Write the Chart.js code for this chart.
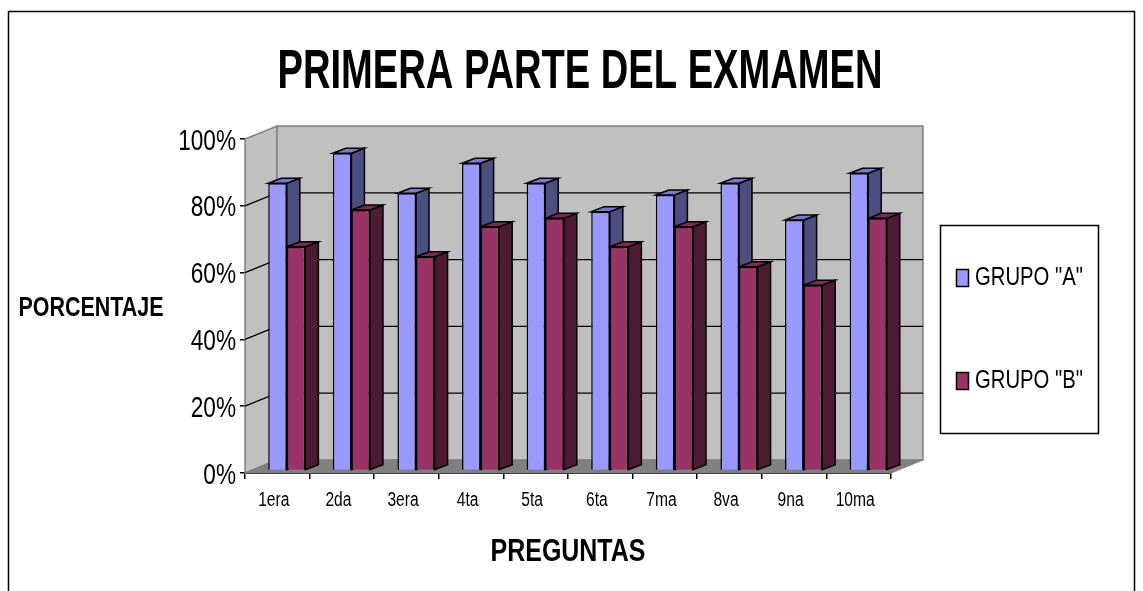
<!DOCTYPE html>
<html>
<head>
<meta charset="utf-8">
<title>Primera parte del examen</title>
<script src="https://cdn.jsdelivr.net/npm/chart.js@4/dist/chart.umd.min.js"></script>
<style>
    html, body { margin: 0; padding: 0; background: #fff; }
    canvas { display: block; }
</style>
</head>
<body>
<canvas id="examChart" width="1143" height="591"></canvas>
<script>
const preguntas = ['1era', '2da', '3era', '4ta', '5ta', '6ta', '7ma', '8va', '9na', '10ma'];
const grupoA = [86, 95, 83, 92, 86, 77.5, 82.5, 86, 75, 89];
const grupoB = [67, 78, 64, 73, 75.5, 67, 73, 61, 55.5, 75.5];
const yTicks = [0, 20, 40, 60, 80, 100];

const sans = '"Liberation Sans", Arial, sans-serif';

// the reference was squeezed sideways, no narrow font is installed so do the same to the text
const SQUEEZE = 0.78;
const squeezeFor = { 'PRIMERA PARTE DEL EXMAMEN': 0.693, 'PREGUNTAS': 0.78 };

// the fake 3d: how far the back wall sits behind the axes, and the bars inside that
const WALL_DX = 32, WALL_DY = -13;
const BAR_DX = 9.5, BAR_DY = -2.5;
const SIDE_DX = 13, SIDE_DY = -5;

const faces = [
    { front: '#9999FF', side: '#4D4D80', top: '#7A7ACC' },
    { front: '#993366', side: '#4D1A33', top: '#7A2952' }
];

function poly(ctx, pts, fill, stroke, width) {
    ctx.beginPath();
    pts.forEach((p, i) => i ? ctx.lineTo(p[0], p[1]) : ctx.moveTo(p[0], p[1]));
    ctx.closePath();
    ctx.fillStyle = fill;
    ctx.fill();
    ctx.strokeStyle = stroke;
    ctx.lineWidth = width;
    ctx.stroke();
}

const box3d = {
    id: 'box3d',
    beforeInit(chart) {
        const ctx = chart.ctx;
        const fillText = ctx.fillText.bind(ctx);
        ctx.fillText = (s, x, y) => {
            const k = squeezeFor[s] || SQUEEZE;
            fillText(s, x, y, ctx.measureText(s).width * k);
        };
    },
    afterLayout(chart) {
        // title is centred over the whole picture, not just the part left of the right padding
        chart.titleBlock.left = 17;
        chart.titleBlock.right = 1143;
    },
    beforeDatasetsDraw(chart) {
        const ctx = chart.ctx;
        const a = chart.chartArea;
        const y = chart.scales.y;

        // walls and floor
        poly(ctx, [[a.left, a.bottom], [a.left + WALL_DX, a.bottom + WALL_DY], [a.left + WALL_DX, a.top + WALL_DY], [a.left, a.top]], '#C0C0C0', '#808080', 1.5);
        poly(ctx, [[a.left + WALL_DX, a.top + WALL_DY], [a.right + WALL_DX, a.top + WALL_DY], [a.right + WALL_DX, a.bottom + WALL_DY], [a.left + WALL_DX, a.bottom + WALL_DY]], '#C0C0C0', '#808080', 1.5);
        poly(ctx, [[a.left, a.bottom], [a.right, a.bottom], [a.right + WALL_DX, a.bottom + WALL_DY], [a.left + WALL_DX, a.bottom + WALL_DY]], '#808080', '#808080', 1);

        // gridlines run along the left wall and the back wall
        ctx.strokeStyle = '#000';
        ctx.lineWidth = 1.3;
        yTicks.slice(1, -1).forEach(v => {
            const py = y.getPixelForValue(v);
            ctx.beginPath();
            ctx.moveTo(a.left, py);
            ctx.lineTo(a.left + WALL_DX, py + WALL_DY);
            ctx.lineTo(a.right + WALL_DX, py + WALL_DY);
            ctx.stroke();
        });

        // side and top of every bar, the fronts come from chart.js afterwards
        chart.data.datasets.forEach((ds, d) => {
            chart.getDatasetMeta(d).data.forEach(bar => {
                const l = bar.x - bar.width / 2 + BAR_DX;
                const r = bar.x + bar.width / 2 + BAR_DX;
                const t = bar.y + BAR_DY;
                const b = bar.base + BAR_DY;
                poly(ctx, [[r, t], [r + SIDE_DX, t + SIDE_DY], [r + SIDE_DX, b + SIDE_DY], [r, b]], faces[d].side, '#000', 1.5);
                poly(ctx, [[l, t], [l + SIDE_DX, t + SIDE_DY], [r + SIDE_DX, t + SIDE_DY], [r, t]], faces[d].top, '#000', 1.5);
            });
        });
    },
    beforeDatasetDraw(chart) {
        chart.ctx.save();
        chart.ctx.translate(BAR_DX, BAR_DY);
    },
    afterDatasetDraw(chart) {
        chart.ctx.restore();
    },
    afterDraw(chart) {
        const ctx = chart.ctx;

        // outer frame, the picture is cut off before its bottom edge
        ctx.strokeStyle = '#000';
        ctx.lineWidth = 1.5;
        ctx.beginPath();
        ctx.moveTo(8.5, 591);
        ctx.lineTo(8.5, 11.5);
        ctx.lineTo(1134.5, 11.5);
        ctx.lineTo(1134.5, 591);
        ctx.stroke();

        // horizontal y axis title
        ctx.fillStyle = '#000';
        ctx.textAlign = 'center';
        ctx.textBaseline = 'middle';
        ctx.font = 'bold 27.5px ' + sans;
        ctx.fillText('PORCENTAJE', 91, 308);

        // legend box
        ctx.lineWidth = 1.5;
        ctx.fillStyle = '#fff';
        ctx.fillRect(940.5, 225.5, 158, 208);
        ctx.strokeRect(940.5, 225.5, 158, 208);
        chart.data.datasets.forEach((ds, d) => {
            const ly = 278 + d * 103;
            ctx.fillStyle = ds.backgroundColor;
            ctx.fillRect(956.5, ly - 8.5, 12, 17);
            ctx.strokeRect(956.5, ly - 8.5, 12, 17);
            ctx.fillStyle = '#000';
            ctx.textAlign = 'left';
            ctx.font = '26px ' + sans;
            ctx.fillText(ds.label, 975, ly);
        });
    }
};

new Chart(document.getElementById('examChart').getContext('2d'), {
    type: 'bar',
    data: {
        labels: preguntas,
        datasets: [
            { label: 'GRUPO "A"', data: grupoA, backgroundColor: faces[0].front, borderColor: '#000', borderWidth: 1.5, clip: false },
            { label: 'GRUPO "B"', data: grupoB, backgroundColor: faces[1].front, borderColor: '#000', borderWidth: 1.5, clip: false }
        ]
    },
    options: {
        responsive: false,
        animation: false,
        devicePixelRatio: 1,
        categoryPercentage: 0.575,
        barPercentage: 1,
        layout: { padding: { left: 17, right: 252, top: 0, bottom: 0 } },
        plugins: {
            legend: { display: false },
            tooltip: { enabled: false },
            title: {
                display: true,
                text: 'PRIMERA PARTE DEL EXMAMEN',
                color: '#000',
                font: { family: sans, size: 55, weight: 'bold', lineHeight: 1.2 },
                padding: { top: 39.8, bottom: 33.2 }
            }
        },
        scales: {
            x: {
                offset: true,
                border: { color: '#000', width: 2 },
                grid: { offset: true, drawOnChartArea: false, color: '#000', lineWidth: 1.5, tickLength: 6 },
                ticks: { color: '#000', font: { family: sans, size: 20 }, maxRotation: 0, autoSkip: false, padding: 9, labelOffset: -3.5 },
                title: { display: true, text: 'PREGUNTAS', color: '#000', font: { family: sans, size: 32, weight: 'bold' }, padding: { top: 0, bottom: 20 } },
                afterFit(scale) { scale.height = 118; }
            },
            y: {
                min: 0,
                max: 100,
                border: { color: '#808080', width: 1 },
                grid: { drawOnChartArea: false, color: '#000', lineWidth: 1.5, tickLength: 5 },
                ticks: { color: '#000', stepSize: 20, font: { family: sans, size: 29 }, padding: 4, labelOffset: 2.5, callback: v => v + '%' },
                afterFit(scale) { scale.width = 228; }
            }
        }
    },
    plugins: [box3d]
});
</script>
</body>
</html>
